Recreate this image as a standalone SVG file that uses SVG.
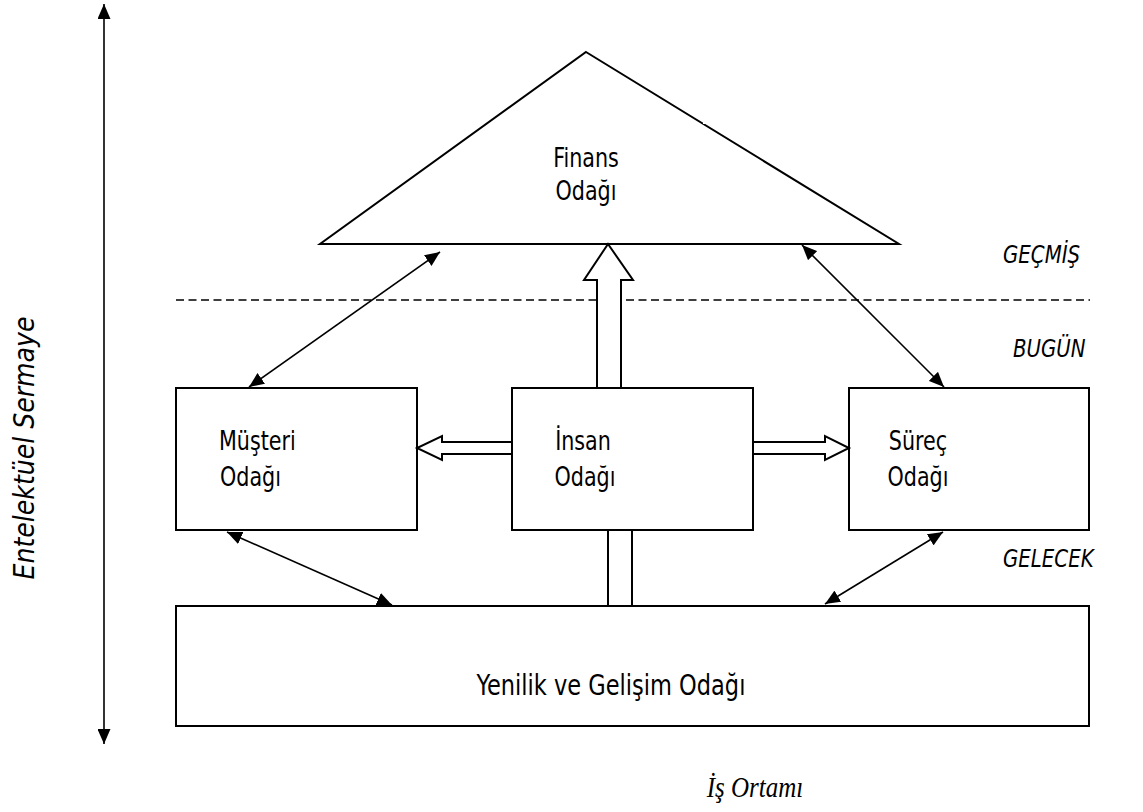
<svg xmlns="http://www.w3.org/2000/svg" width="1143" height="812" viewBox="0 0 1143 812">
  <style>
    .shape { fill: #ffffff; stroke: #000000; stroke-width: 2; }
    .link { fill: none; stroke: #000000; stroke-width: 1.6; }
    .label { font-family: "DejaVu Sans Condensed", "DejaVu Sans", sans-serif; font-stretch: condensed; font-size: 23px; fill: #000000; }
    .big { font-size: 25px; }
    .era { font-family: "DejaVu Sans Condensed", "DejaVu Sans", sans-serif; font-stretch: condensed; font-style: italic; font-size: 22px; fill: #000000; }
    .axis-label { font-size: 28px; }
    .env { font-family: "Liberation Serif", serif; font-style: italic; font-size: 25px; fill: #000000; }
  </style>
  <defs>
    <marker id="tip" viewBox="0 0 15 13" refX="15" refY="6.5" markerWidth="15" markerHeight="13" markerUnits="userSpaceOnUse" orient="auto-start-reverse">
      <path d="M0,0 L15,6.5 L0,13 Z" fill="#000000"/>
    </marker>
  </defs>
  <rect width="1143" height="812" fill="#ffffff"/>

  <!-- vertical axis: intellectual capital -->
  <g id="axis">
    <line x1="104" y1="4" x2="104" y2="744" class="link" marker-start="url(#tip)" marker-end="url(#tip)"/>
    <text class="era axis-label" transform="translate(34,448) rotate(-90)" text-anchor="middle">Entelektüel Sermaye</text>
  </g>

  <!-- time separator -->
  <line x1="176" y1="300" x2="1090" y2="300" stroke="#000000" stroke-width="1.5" stroke-dasharray="8 4.5"/>

  <!-- era labels -->
  <g id="eras">
    <text class="era" transform="translate(1003,263) scale(1,1.15)">GEÇMİŞ</text>
    <text class="era" transform="translate(1013,357) scale(1,1.15)">BUGÜN</text>
    <text class="era" transform="translate(1003,567) scale(1,1.15)">GELECEK</text>
  </g>

  <g id="finans">
    <polygon class="shape" points="586,52 899,244 320,244"/>
    <rect x="703" y="120" width="4" height="4" fill="#ffffff"/>
    <text class="label" transform="translate(586,167) scale(1,1.15)" text-anchor="middle">Finans</text>
    <text class="label" transform="translate(586,200) scale(1,1.15)" text-anchor="middle">Odağı</text>
  </g>

  <g id="musteri">
    <rect class="shape" x="176" y="388" width="241" height="142"/>
    <text class="label" transform="translate(219,450) scale(1,1.15)">Müşteri</text>
    <text class="label" transform="translate(220,486) scale(1,1.15)">Odağı</text>
  </g>

  <g id="insan">
    <rect class="shape" x="512" y="388" width="241" height="142"/>
    <text class="label" transform="translate(583,450) scale(1,1.15)" text-anchor="middle">İnsan</text>
    <text class="label" transform="translate(585,486) scale(1,1.15)" text-anchor="middle">Odağı</text>
  </g>

  <g id="surec">
    <rect class="shape" x="849" y="388" width="240" height="142"/>
    <text class="label" transform="translate(918,450) scale(1,1.15)" text-anchor="middle">Süreç</text>
    <text class="label" transform="translate(918,486) scale(1,1.15)" text-anchor="middle">Odağı</text>
  </g>

  <g id="yenilik">
    <rect class="shape" x="176" y="606" width="913" height="120"/>
    <text class="label big" transform="translate(611,695) scale(1,1.15)" text-anchor="middle">Yenilik ve Gelişim Odağı</text>
  </g>

  <text class="env" transform="translate(755,797) scale(1,1.15)" text-anchor="middle">İş Ortamı</text>

  <g id="connectors">
    <!-- hollow block arrows out of İnsan Odağı -->
    <polygon class="shape" points="597,388 597,280 584,280 608,244 633,280 621,280 621,388"/>
    <polygon class="shape" points="512,442 442,442 442,436 417,448 442,460 442,454 512,454"/>
    <polygon class="shape" points="753,442 825,442 825,436 849,448 825,460 825,454 753,454"/>
    <!-- open band down to Yenilik ve Gelişim Odağı -->
    <line x1="608" y1="530" x2="608" y2="606" stroke="#000000" stroke-width="2"/>
    <line x1="632" y1="530" x2="632" y2="606" stroke="#000000" stroke-width="2"/>
    <!-- two-way links -->
    <line class="link" x1="249" y1="387" x2="440" y2="252" marker-start="url(#tip)" marker-end="url(#tip)"/>
    <line class="link" x1="802" y1="245" x2="944" y2="387" marker-start="url(#tip)" marker-end="url(#tip)"/>
    <line class="link" x1="227" y1="532" x2="392" y2="605" marker-start="url(#tip)" marker-end="url(#tip)"/>
    <line class="link" x1="943" y1="532" x2="825" y2="604" marker-start="url(#tip)" marker-end="url(#tip)"/>
  </g>
</svg>
